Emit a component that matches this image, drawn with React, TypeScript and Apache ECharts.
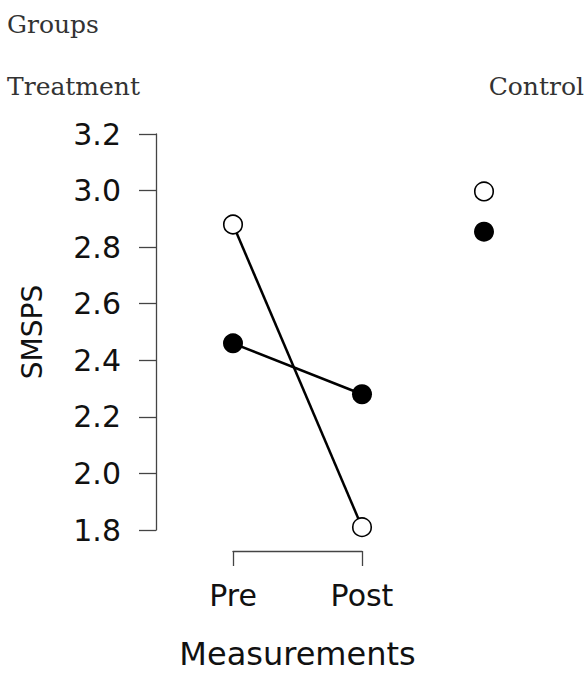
import React, { useEffect, useRef } from "react";
import * as echarts from "echarts";

const measurements = ["Pre", "Post"];
const treatmentOpen = [2.88, 1.81];
const treatmentFilled = [2.46, 2.28];
const controlOpen: (number | string)[] = [3.0, "-"];
const controlFilled: (number | string)[] = [2.86, "-"];
const yMin = 1.8;
const yMax = 3.2;
const yStep = 0.2;
const legendTitle = "Groups";
const panelNames = ["Treatment", "Control"];
const yName = "SMSPS";
const xName = "Measurements";

const SANS = "DejaVu Sans";
const SERIF = "DejaVu Serif";

export default function App() {
  const ref = useRef<HTMLDivElement>(null);
  useEffect(() => {
    if (!ref.current) return;
    const chart = echarts.init(ref.current, undefined, { renderer: "svg" });
    const axisColor = "#444";
    const openStyle = { color: "#fff", borderColor: "#000", borderWidth: 1.6 };
    const filledStyle = { color: "#000", borderWidth: 0 };
    const serifStyle = { fontFamily: SERIF, fontSize: 25, fill: "#333" };
    chart.setOption({
      animation: false,
      backgroundColor: "#fff",
      graphic: [
        { type: "text", left: 7, top: 12, style: { text: legendTitle, ...serifStyle } },
        { type: "text", left: 7, top: 74, style: { text: panelNames[0], ...serifStyle } },
        { type: "text", right: 3, top: 74, style: { text: panelNames[1], ...serifStyle } },
      ],
      grid: [
        { left: 233, width: 129, top: 134, bottom: 139 },
        { left: 484, width: 129, top: 134, bottom: 139 },
      ],
      xAxis: [
        {
          type: "category",
          gridIndex: 0,
          data: measurements,
          boundaryGap: false,
          offset: 21,
          axisLine: { lineStyle: { color: axisColor, width: 1.3 } },
          axisTick: { length: 15, lineStyle: { color: axisColor, width: 1.3 } },
          axisLabel: { margin: 29, fontFamily: SANS, fontSize: 30, color: "#111" },
          name: xName,
          nameLocation: "middle",
          nameGap: 87,
          nameTextStyle: { fontFamily: SANS, fontSize: 32, color: "#111" },
          splitLine: { show: false },
        },
        {
          type: "category",
          gridIndex: 1,
          data: measurements,
          boundaryGap: false,
          show: false,
        },
      ],
      yAxis: [
        {
          type: "value",
          gridIndex: 0,
          min: yMin,
          max: yMax,
          interval: yStep,
          offset: 77,
          axisLine: { show: true, lineStyle: { color: axisColor, width: 1.3 } },
          axisTick: { show: true, length: 17, lineStyle: { color: axisColor, width: 1.3 } },
          axisLabel: {
            margin: 35,
            fontFamily: SANS,
            fontSize: 30,
            color: "#111",
            formatter: (v: number) => v.toFixed(1),
          },
          splitLine: { show: false },
          name: yName,
          nameLocation: "middle",
          nameGap: 110,
          nameTextStyle: { fontFamily: SANS, fontSize: 28, color: "#111" },
        },
        {
          type: "value",
          gridIndex: 1,
          min: yMin,
          max: yMax,
          interval: yStep,
          show: false,
        },
      ],
      series: [
        {
          name: "Treatment (open)",
          type: "line",
          xAxisIndex: 0,
          yAxisIndex: 0,
          data: treatmentOpen,
          symbol: "circle",
          symbolSize: 18.5,
          showAllSymbol: true,
          lineStyle: { color: "#000", width: 2.5 },
          itemStyle: openStyle,
        },
        {
          name: "Treatment (filled)",
          type: "line",
          xAxisIndex: 0,
          yAxisIndex: 0,
          data: treatmentFilled,
          symbol: "circle",
          symbolSize: 20,
          lineStyle: { color: "#000", width: 2.5 },
          itemStyle: filledStyle,
        },
        {
          name: "Control (open)",
          type: "line",
          xAxisIndex: 1,
          yAxisIndex: 1,
          data: controlOpen,
          symbol: "circle",
          symbolSize: 18.5,
          showAllSymbol: true,
          clip: false,
          lineStyle: { color: "#000", width: 2.5 },
          itemStyle: openStyle,
        },
        {
          name: "Control (filled)",
          type: "line",
          xAxisIndex: 1,
          yAxisIndex: 1,
          data: controlFilled,
          symbol: "circle",
          symbolSize: 20,
          showAllSymbol: true,
          clip: false,
          lineStyle: { color: "#000", width: 2.5 },
          itemStyle: filledStyle,
        },
      ],
    });
    return () => chart.dispose();
  }, []);
  return (
    <div
      ref={ref}
      style={{ position: "fixed", left: 0, top: 0, width: 587, height: 675 }}
    />
  );
}
